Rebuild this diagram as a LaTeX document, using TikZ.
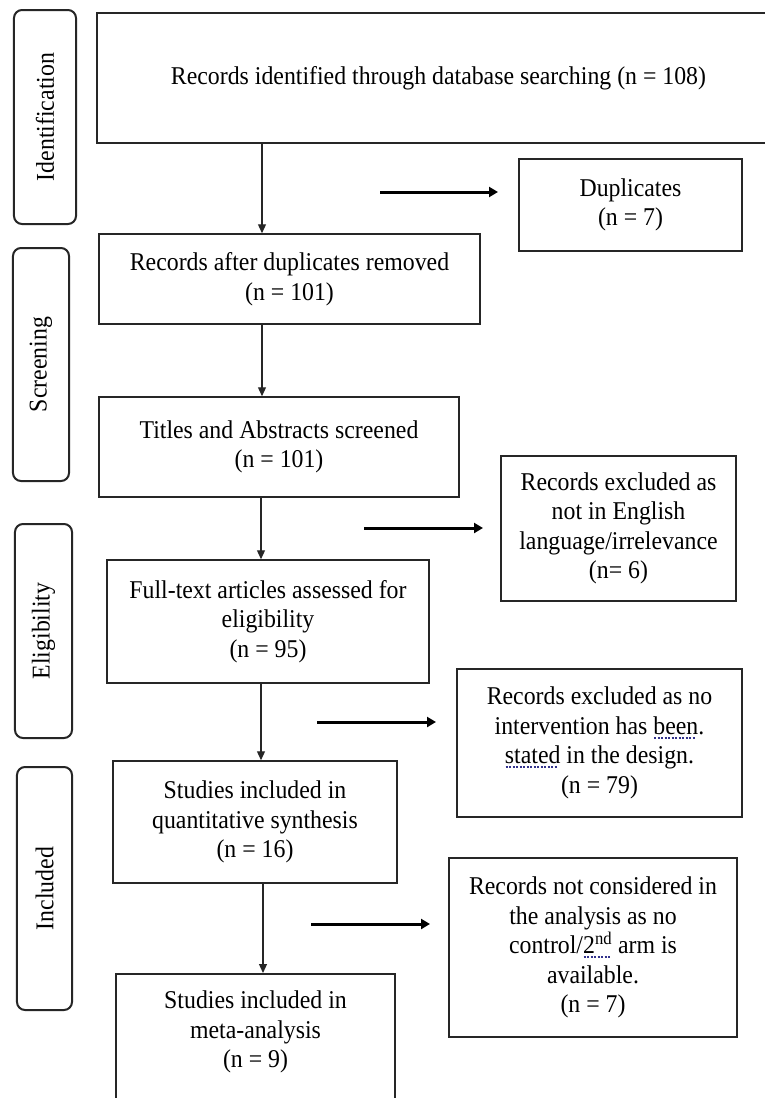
\documentclass[tikz,border=0pt]{standalone}
\usepackage{fontspec}
\setmainfont{Liberation Serif}[FakeStretch=0.93]
\usetikzlibrary{arrows.meta}
\definecolor{gline}{RGB}{50,50,140}
\newsavebox\glbox
\newcommand\gramline[1]{\sbox\glbox{#1}\leavevmode\rlap{\raisebox{-4.5bp}{\textcolor{gline}{\leaders\hbox to 3.5bp{\hss\rule{2.2bp}{2bp}\hss}\hskip\wd\glbox}}}\usebox\glbox}
\tikzset{
  txt/.style={font=\fontsize{25.6bp}{29.5bp}\selectfont, align=center, text=black},
  mainbox/.style={txt, draw=black!85, line width=1.5bp, inner sep=0pt},
  sidebox/.style={txt, draw=black!85, line width=2bp, rounded corners=8bp, inner sep=0pt, rotate=90},
  darrow/.style={draw=black!85, line width=1.2bp, -{Triangle[length=9bp,width=8bp]}},
  harrow/.style={draw=black, line width=3bp, -{Triangle[length=9bp,width=10bp]}}
}
\begin{document}
\begin{tikzpicture}[x=1bp,y=-1bp]
\clip (0,0) rectangle (765,1098);
\fill[white] (0,0) rectangle (765,1098);

% side phase labels
\node[sidebox, minimum width=214bp, minimum height=62bp] (ident) at (45,117) {Identification};
\node[sidebox, minimum width=233bp, minimum height=56bp] (screen) at (41,364.5) {Screening};
\node[sidebox, minimum width=214bp, minimum height=57bp] (elig) at (43.5,631) {Eligibility};
\node[sidebox, minimum width=243bp, minimum height=55bp] (incl) at (44.5,888.5) {Included};

% main column
\node[mainbox, minimum width=683bp, minimum height=130bp] (top) at (438.5,78) {Records identified through database searching (n = 108)};
\node[mainbox, minimum width=381bp, minimum height=90bp] (after) at (289.5,279) {Records after duplicates removed\\(n = 101)};
\node[mainbox, minimum width=360bp, minimum height=100bp] (titles) at (279,447) {Titles and Abstracts screened\\(n = 101)};
\node[mainbox, minimum width=322bp, minimum height=123bp] (full) at (268,621.5) {Full-text articles assessed for\\eligibility\\(n = 95)};
\node[mainbox, minimum width=284bp, minimum height=122bp] (quant) at (255,822) {Studies included in\\quantitative synthesis\\(n = 16)};
\node[mainbox, minimum width=279bp, minimum height=140bp, anchor=north] (meta) at (255.5,973) {};
\node[txt] (metat) at (255.5,1032) {Studies included in\\meta-analysis\\(n = 9)};

% right column
\node[mainbox, minimum width=223bp, minimum height=92bp] (dup) at (630.5,205) {Duplicates\\(n = 7)};
\node[mainbox, minimum width=235bp, minimum height=145bp] (eng) at (618.5,528.5) {Records excluded as\\not in English\\language/irrelevance\\(n= 6)};
\node[mainbox, minimum width=285bp, minimum height=148bp] (interv) at (599.5,743) {Records excluded as no\\intervention has \gramline{been}.\\\gramline{stated} in the design.\\(n = 79)};
\node[mainbox, minimum width=288bp, minimum height=179bp] (anal) at (593,947.5) {Records not considered in\\the analysis as no\\control/\gramline{2\textsuperscript{nd}} arm is\\available.\\(n = 7)};

% vertical flow
\coordinate (ax) at (262,0);
\draw[darrow] (top.south -| ax) -- (after.north -| ax);
\draw[darrow] (after.south -| ax) -- (titles.north -| ax);
\coordinate (bx) at (261,0);
\draw[darrow] (titles.south -| bx) -- (full.north -| bx);
\draw[darrow] (full.south -| bx) -- (quant.north -| bx);
\coordinate (cx) at (263,0);
\draw[darrow] (quant.south -| cx) -- (meta.north -| cx);

% exclusion arrows (free standing)
\coordinate (h1s) at (380,192); \coordinate (h1e) at (498,192);
\coordinate (h2s) at (364,528); \coordinate (h2e) at (483,528);
\coordinate (h3s) at (317,722); \coordinate (h3e) at (436,722);
\coordinate (h4s) at (311,924); \coordinate (h4e) at (430,924);
\draw[harrow] (h1s) -- (h1e);
\draw[harrow] (h2s) -- (h2e);
\draw[harrow] (h3s) -- (h3e);
\draw[harrow] (h4s) -- (h4e);
\end{tikzpicture}
\end{document}
